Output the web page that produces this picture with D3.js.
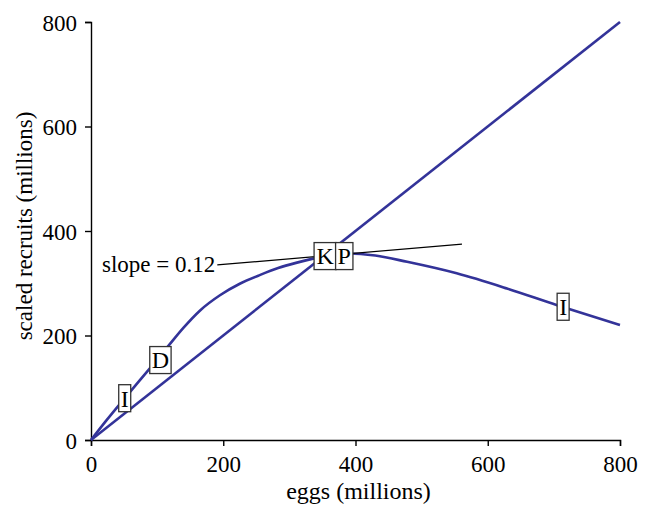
<!DOCTYPE html>
<html>
<head>
<meta charset="utf-8">
<script src="https://cdn.jsdelivr.net/npm/d3@7"></script>
<style>
  body { margin: 0; background: #fff; }
  text { font-family: "Liberation Serif", "Times New Roman", serif; fill: #000; }
</style>
</head>
<body>
<div id="chart"></div>
<script>
// recruitment curve (eggs -> scaled recruits), millions
var curveEggs    = [0, 23, 61, 89, 117, 140, 165, 195, 225, 256, 283, 310, 351, 390, 430, 478, 553, 629, 705, 800];
var curveRecruit = [0, 37, 95, 137, 180, 215, 248, 277, 299, 316, 329, 339, 351, 357, 353, 341, 319, 290, 258, 220];

// replacement line
var lineEggs    = [0, 800];
var lineRecruit = [0, 800];

// tangent at K
var tangentEggs    = [191, 561];
var tangentRecruit = [335, 375];

// point labels
var labelText = ["I", "D", "K", "P", "I"];
var labelEggs = [51, 105, 354, 383, 714];
var labelRecruit = [80, 153, 352, 352, 255];

var xTicks = [0, 200, 400, 600, 800];
var yTicks = [0, 200, 400, 600, 800];

var svgWidth = 652;
var svgHeight = 510;

var margin = { top: 22, right: 32, bottom: 70, left: 91 };
var width = svgWidth - margin.left - margin.right;
var height = svgHeight - margin.top - margin.bottom;

var svg = d3.select("#chart")
  .append("svg")
  .attr("width", svgWidth)
  .attr("height", svgHeight);

var chartGroup = svg.append("g")
  .attr("transform", `translate(${margin.left}, ${margin.top})`);

var x = d3.scaleLinear().domain([0, 800]).range([0, width]);
var y = d3.scaleLinear().domain([0, 800]).range([height, 0]);

// axes
var bottomAxis = d3.axisBottom(x).tickValues(xTicks).tickSize(6).tickPadding(10);
var leftAxis = d3.axisLeft(y).tickValues(yTicks).tickSize(6).tickPadding(8);

var xAxisG = chartGroup.append("g")
  .attr("transform", `translate(0, ${height})`)
  .call(bottomAxis);
var yAxisG = chartGroup.append("g").call(leftAxis);

[xAxisG, yAxisG].forEach(function(g) {
  g.selectAll("path").attr("stroke", "#000").attr("stroke-width", 1.4);
  g.selectAll("line").attr("stroke", "#000").attr("stroke-width", 1.4);
  g.selectAll("text")
    .style("font-family", '"Liberation Serif", serif')
    .style("font-size", "23px")
    .attr("fill", "#000");
});
yAxisG.selectAll("text").attr("dy", "0.35em");

// lines
var blue = "#333399";

var lineGen = d3.line()
  .x(d => x(d[0]))
  .y(d => y(d[1]));

chartGroup.append("path")
  .datum(lineEggs.map((e, i) => [e, lineRecruit[i]]))
  .attr("d", lineGen)
  .attr("fill", "none")
  .attr("stroke", blue)
  .attr("stroke-width", 2.6);

chartGroup.append("path")
  .datum(curveEggs.map((e, i) => [e, curveRecruit[i]]))
  .attr("d", lineGen.curve(d3.curveMonotoneX))
  .attr("fill", "none")
  .attr("stroke", blue)
  .attr("stroke-width", 2.6);

chartGroup.append("path")
  .datum(tangentEggs.map((e, i) => [e, tangentRecruit[i]]))
  .attr("d", d3.line().x(d => x(d[0])).y(d => y(d[1])))
  .attr("fill", "none")
  .attr("stroke", "#000")
  .attr("stroke-width", 1.2);

chartGroup.append("text")
  .attr("x", x(tangentEggs[0]) - 2)
  .attr("y", y(tangentRecruit[0]) + 7)
  .attr("text-anchor", "end")
  .style("font-size", "23px")
  .text("slope = 0.12");

// boxed labels
var labels = chartGroup.selectAll(".pt-label")
  .data(labelText.map((t, i) => ({ t: t, e: labelEggs[i], r: labelRecruit[i] })))
  .enter()
  .append("g")
  .attr("class", "pt-label")
  .attr("transform", d => `translate(${x(d.e)}, ${y(d.r)})`);

labels.append("rect");
labels.append("text")
  .attr("text-anchor", "middle")
  .attr("dy", "0.35em")
  .style("font-size", "24px")
  .text(d => d.t);

labels.each(function() {
  var g = d3.select(this);
  var bb = g.select("text").node().getBBox();
  var w = bb.width + 4;
  var h = 27;
  g.select("rect")
    .attr("x", -w / 2)
    .attr("y", -h / 2)
    .attr("width", w)
    .attr("height", h)
    .attr("fill", "#fff")
    .attr("stroke", "#333")
    .attr("stroke-width", 1.3);
});

// axis titles
chartGroup.append("text")
  .attr("x", width / 2 + 3)
  .attr("y", height + 59)
  .attr("text-anchor", "middle")
  .style("font-size", "24px")
  .text("eggs (millions)");

chartGroup.append("text")
  .attr("transform", "rotate(-90)")
  .attr("x", -(204))
  .attr("y", -59)
  .attr("text-anchor", "middle")
  .style("font-size", "23px")
  .text("scaled recruits (millions)");
</script>
</body>
</html>
